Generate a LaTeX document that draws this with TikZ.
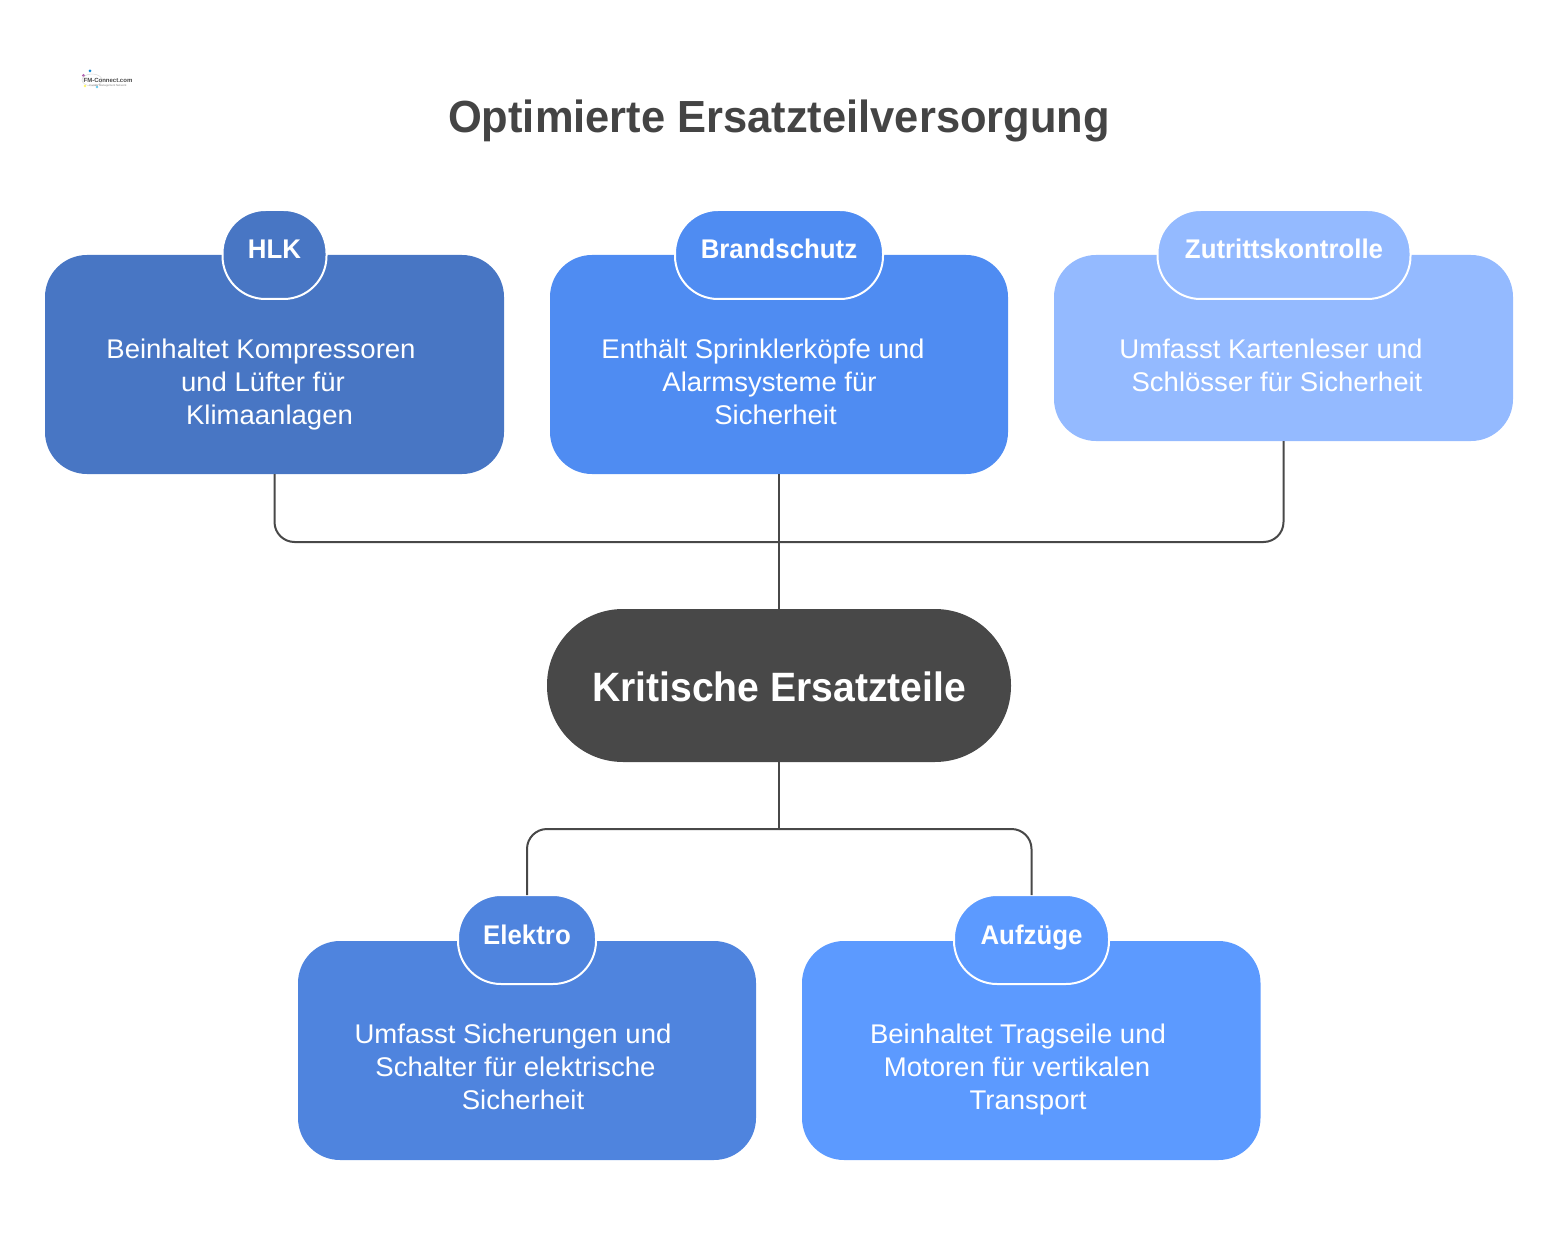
\documentclass[tikz,border=0pt]{standalone}
\usepackage{fontspec}
\setmainfont{Liberation Sans}
\newfontfamily\titlefont[FakeStretch=0.966]{Liberation Sans}
\newfontfamily\kritfont[FakeStretch=0.954]{Liberation Sans}
\newfontfamily\pillfont[FakeStretch=0.957]{Liberation Sans}
\newfontfamily\bodyfont[FakeStretch=1.02]{Liberation Sans}
\definecolor{cHlk}{HTML}{4876C4}
\definecolor{cBrand}{HTML}{4F8CF2}
\definecolor{cZut}{HTML}{94BAFF}
\definecolor{cElek}{HTML}{4F84DE}
\definecolor{cAuf}{HTML}{5C9AFF}
\definecolor{cDark}{HTML}{484848}
\definecolor{cTitle}{HTML}{444444}
\tikzset{
  x=1pt,y=-1pt,
  cardbox/.style={rounded corners=42pt,inner sep=0pt,outer sep=0pt,minimum height=#1,minimum width=459pt,draw=none,anchor=north west},
  pillbox/.style={rounded corners=43pt,draw=white,line width=2pt,inner sep=0pt,outer sep=0pt,minimum height=89pt,anchor=center},
  pilltext/.style={text=white,font=\pillfont\fontsize{27}{27}\selectfont\bfseries,anchor=base,inner sep=0pt},
  bodytext/.style={text=white,font=\bodyfont\fontsize{27}{27}\selectfont,anchor=base,inner sep=0pt},
  wire/.style={draw=cDark,line width=2pt,rounded corners=20pt},
}
\begin{document}
\begin{tikzpicture}
\useasboundingbox (0,0) rectangle (1558,1249);
% logo
\fill[violet!60] (83.5,75.5) circle (1.7);
\fill[cyan!70!blue] (90,71) circle (1.5);
\fill[cyan!60] (97,87) circle (1.4);
\fill[yellow!60] (85,86) circle (1.4);
\draw[gray!30,line width=.5pt] (92,80) ellipse (10 and 6);
\node[anchor=base,inner sep=0pt,font=\fontsize{6}{6}\selectfont\bfseries,text=cDark] (logo) at (108,83) {FM-Connect.com};
\node[anchor=base,inner sep=0pt,font=\fontsize{2.8}{2.8}\selectfont,text=gray] (logosub) at (108,87) {Facility Management Network};
% title
\node[anchor=base,inner sep=0pt,text=cTitle,font=\titlefont\fontsize{45}{45}\selectfont\bfseries] (title) at (779,132.5) {Optimierte Ersatzteilversorgung};
% cards
\node[cardbox=219pt,fill=cHlk] (hlk) at (45,255) {};
\node[cardbox=219pt,fill=cBrand,minimum width=458pt] (brand) at (550,255) {};
\node[cardbox=186pt,fill=cZut,minimum width=459pt] (zut) at (1054,255) {};
\node[cardbox=219pt,fill=cElek,minimum width=458pt] (elek) at (298,941) {};
\node[cardbox=219pt,fill=cAuf,minimum width=458.5pt] (auf) at (802,941) {};
% centre
\node[fill=cDark,rounded corners=76pt,outer sep=0pt,minimum width=464pt,minimum height=153pt,inner sep=0pt] (krit) at (779,685.5) {};
\node[anchor=base,inner sep=0pt,text=white,font=\kritfont\fontsize{41}{41}\selectfont\bfseries] (kritt) at (779,701) {Kritische Ersatzteile};
% connectors
\coordinate (topj) at (779,542);
\coordinate (botj) at (779,829);
\draw[wire] (hlk.south) |- (topj);
\draw[wire] (zut.south) |- (topj);
\draw[wire] (brand.south) -- (krit.north);
\draw[wire] (krit.south) -- (botj);
% pills
\node[pillbox,fill=cHlk,minimum width=104pt] (phlk) at (274.5,254.5) {};
\node[pillbox,fill=cBrand,minimum width=208pt] (pbrand) at (779,254.5) {};
\node[pillbox,fill=cZut,minimum width=253pt] (pzut) at (1284,254.5) {};
\node[pillbox,fill=cElek,minimum width=138pt] (pelek) at (527,939.5) {};
\node[pillbox,fill=cAuf,minimum width=155pt] (pauf) at (1031.5,939.5) {};
\draw[wire] (pelek.north) |- (botj);
\draw[wire] (pauf.north) |- (botj);
\node[pilltext] (thlk) at (274.5,259) {HLK};
\node[pilltext] (tbrand) at (779,259) {Brandschutz};
\node[pilltext] (tzut) at (1284,259) {Zutrittskontrolle};
\node[pilltext] (telek) at (527,944) {Elektro};
\node[pilltext] (tauf) at (1031.5,944) {Aufzüge};
% body
\node[bodytext] (h1) at (261,358) {Beinhaltet Kompressoren};
\node[bodytext] (h2) at (263,391) {und Lüfter für};
\node[bodytext] (h3) at (269.5,424) {Klimaanlagen};
\node[bodytext] (b1) at (763,358) {Enthält Sprinklerköpfe und};
\node[bodytext] (b2) at (769.5,391) {Alarmsysteme für};
\node[bodytext] (b3) at (775.5,424) {Sicherheit};
\node[bodytext] (z1) at (1271,358) {Umfasst Kartenleser und};
\node[bodytext] (z2) at (1277,391) {Schlösser für Sicherheit};
\node[bodytext] (e1) at (513,1043) {Umfasst Sicherungen und};
\node[bodytext] (e2) at (515.5,1076) {Schalter für elektrische};
\node[bodytext] (e3) at (523,1109) {Sicherheit};
\node[bodytext] (a1) at (1018,1043) {Beinhaltet Tragseile und};
\node[bodytext] (a2) at (1017,1076) {Motoren für vertikalen};
\node[bodytext] (a3) at (1028,1109) {Transport};
\end{tikzpicture}
\end{document}
